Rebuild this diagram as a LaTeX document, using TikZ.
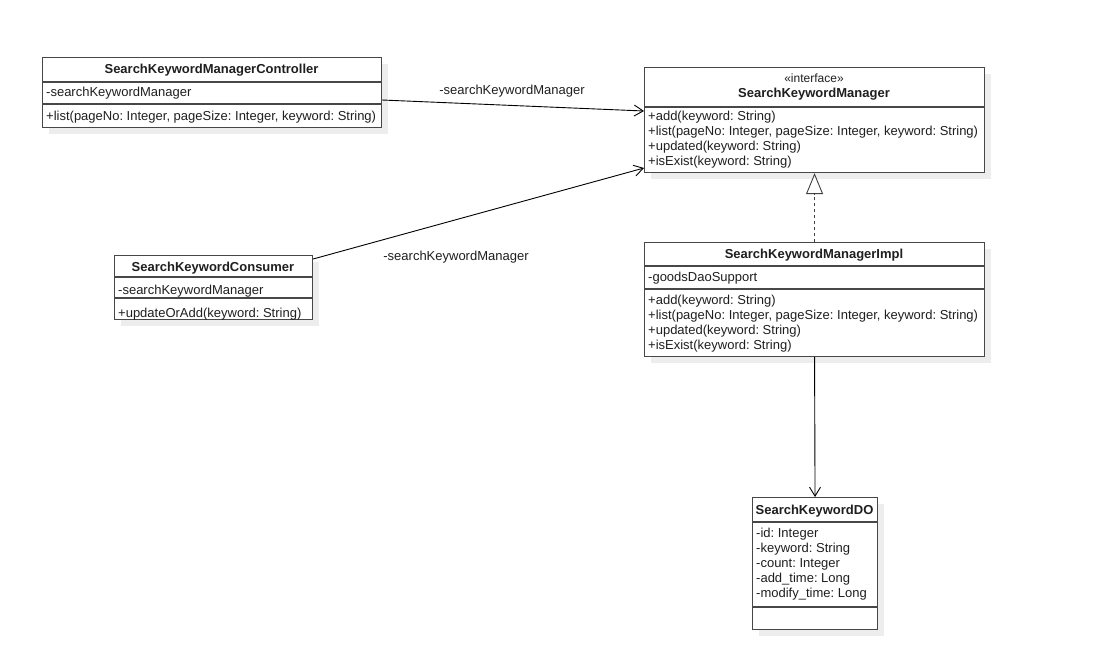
\documentclass[tikz,border=0pt]{standalone}
\usepackage{fontspec}
\setmainfont{Liberation Sans}
\usetikzlibrary{arrows.meta,shadows,calc}
\frenchspacing
\begin{document}
\begin{tikzpicture}[x=1pt,y=-1pt,
  cls/.style={draw=black!72, line width=1.1pt, fill=white, inner sep=0pt, anchor=north west,
    drop shadow={shadow xshift=6pt, shadow yshift=-6pt, fill=black!7, opacity=1}},
  div/.style={draw=black!72, line width=1.1pt},
  txt/.style={anchor=west, inner sep=0pt, text height=9.5pt, text depth=2.7pt, yshift=-1.5pt,
    font=\fontsize{13}{15}\selectfont\frenchspacing, text=black!88},
  ttl/.style={anchor=center, inner sep=0pt, text height=9.5pt, text depth=2.7pt, yshift=-1.5pt,
    font=\fontsize{13}{15}\selectfont\bfseries, text=black!88},
  ster/.style={anchor=center, inner sep=0pt, text height=9pt, text depth=2.5pt, yshift=-1pt,
    font=\fontsize{12}{14}\selectfont, text=black!88},
  lbl/.style={anchor=center, inner sep=0pt, text height=9.5pt, text depth=2.7pt, yshift=-1.5pt,
    font=\fontsize{13}{15}\selectfont, text=black!88},
  assoc/.style={draw=black, line width=0.9pt, -{Straight Barb[length=9pt,width=11pt,line width=0.9pt]}},
  realize/.style={draw=black!75, line width=1.3pt, dash pattern=on 3pt off 3pt,
    -{Triangle[open,length=21pt,width=17pt,line width=0.9pt,fill=white]}},
]
\fill[white] (0,0) rectangle (1100,667);
\useasboundingbox (0,0) rectangle (1100,667);

% SearchKeywordManagerController
\node[cls, minimum width=339pt, minimum height=70pt] (ctl) at (42,57) {};
\draw[div] (42,82) -- (381,82);
\draw[div] (42,104) -- (381,104);
\node[ttl] (ctlT) at (211.5,69) {SearchKeywordManagerController};
\node[txt] (ctlA) at (46,92) {-searchKeywordManager};
\node[txt] (ctlM) at (46,116) {+list(pageNo: Integer, pageSize: Integer, keyword: String)};

% SearchKeywordManager (interface)
\node[cls, minimum width=340pt, minimum height=105pt] (ifc) at (644,67) {};
\draw[div] (644,107) -- (984,107);
\node[ster] (ifcS) at (814,78) {«interface»};
\node[ttl] (ifcT) at (814,93) {SearchKeywordManager};
\node[txt] (ifc1) at (648,116) {+add(keyword: String)};
\node[txt] (ifc2) at (648,131) {+list(pageNo: Integer, pageSize: Integer, keyword: String)};
\node[txt] (ifc3) at (648,146) {+updated(keyword: String)};
\node[txt] (ifc4) at (648,161) {+isExist(keyword: String)};

% SearchKeywordConsumer
\node[cls, minimum width=198pt, minimum height=64pt] (cns) at (114,255) {};
\draw[div] (114,277) -- (312,277);
\draw[div] (114,298) -- (312,298);
\node[ttl] (cnsT) at (213,267) {SearchKeywordConsumer};
\node[txt] (cnsA) at (118,290) {-searchKeywordManager};
\node[txt] (cnsM) at (118,313) {+updateOrAdd(keyword: String)};

% SearchKeywordManagerImpl
\node[cls, minimum width=340pt, minimum height=114pt] (imp) at (644,242) {};
\draw[div] (644,266) -- (984,266);
\draw[div] (644,289) -- (984,289);
\node[ttl] (impT) at (814,254) {SearchKeywordManagerImpl};
\node[txt] (impA) at (648,277) {-goodsDaoSupport};
\node[txt] (imp1) at (648,300) {+add(keyword: String)};
\node[txt] (imp2) at (648,315) {+list(pageNo: Integer, pageSize: Integer, keyword: String)};
\node[txt] (imp3) at (648,330) {+updated(keyword: String)};
\node[txt] (imp4) at (648,345) {+isExist(keyword: String)};

% SearchKeywordDO
\node[cls, minimum width=125pt, minimum height=132pt] (dob) at (752,497) {};
\draw[div] (752,522) -- (877,522);
\draw[div] (752,607) -- (877,607);
\node[ttl] (doT) at (814.5,510) {SearchKeywordDO};
\node[txt] (do1) at (756,533) {-id: Integer};
\node[txt] (do2) at (756,548) {-keyword: String};
\node[txt] (do3) at (756,563) {-count: Integer};
\node[txt] (do4) at (756,578) {-add\_time: Long};
\node[txt] (do5) at (756,593) {-modify\_time: Long};

% connectors
\draw[assoc] ($(ctl.north east)+(0,43)$) -- ($(ifc.north west)+(0,44)$);
\node[lbl] (l1) at (512,90) {-searchKeywordManager};
\draw[assoc] ($(cns.north east)+(0,4)$) -- ($(ifc.north west)+(0,101)$);
\node[lbl] (l2) at (456,256) {-searchKeywordManager};
\draw[realize] (imp.north) -- (ifc.south);
\draw[assoc] (imp.south) -- (dob.north);
\end{tikzpicture}
\end{document}
